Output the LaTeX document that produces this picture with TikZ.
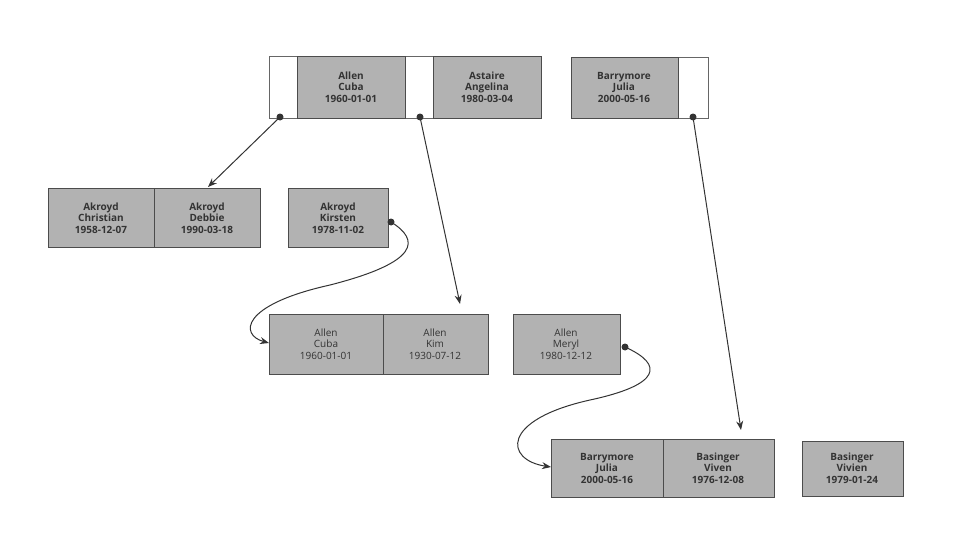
\documentclass[tikz,border=0pt]{standalone}
\usepackage{fontspec}
\setmainfont{Open Sans}
\usetikzlibrary{arrows.meta}
\begin{document}
\begin{tikzpicture}[x=1pt,y=-1pt,
  cell/.style={draw=black!70,fill=black!30,line width=0.8pt},
  ptr/.style={draw=black!60,fill=white,line width=0.6pt},
  lab/.style={align=center,font=\fontsize{10}{11.5}\selectfont\bfseries,text=black!80,inner sep=0pt},
  labn/.style={align=center,font=\fontsize{10}{11.5}\selectfont,text=black!80,inner sep=0pt},
  dot/.style={circle,fill=black!80,inner sep=0pt,minimum size=7pt},
  arr/.style={draw=black!80,line width=1pt,-{Stealth[length=9pt,width=7pt]}}]
\useasboundingbox (0,0) rectangle (965,559);
% top row
\draw[ptr] (269,56) rectangle (297,118);
\draw[ptr] (405,56) rectangle (433,118);
\draw[ptr] (678,57) rectangle (708,118);
\draw[cell] (297,56) rectangle (405,118); \node[lab] (t1) at (351,87) {Allen\\Cuba\\1960-01-01};
\draw[cell] (433,56) rectangle (541,118); \node[lab] (t2) at (487,87) {Astaire\\Angelina\\1980-03-04};
\draw[cell] (571,57) rectangle (678,118); \node[lab] (t3) at (624,87) {Barrymore\\Julia\\2000-05-16};
% row 2
\draw[cell] (48,188) rectangle (154,247); \node[lab] (a1) at (101,218) {Akroyd\\Christian\\1958-12-07};
\draw[cell] (154,188) rectangle (260,247); \node[lab] (a2) at (207,218) {Akroyd\\Debbie\\1990-03-18};
\draw[cell] (288,188) rectangle (388,247); \node[lab] (a3) at (338,218) {Akroyd\\Kirsten\\1978-11-02};
% row 3
\draw[cell] (269,314) rectangle (383,374); \node[labn] (b1) at (326,344) {Allen\\Cuba\\1960-01-01};
\draw[cell] (383,314) rectangle (488,374); \node[labn] (b2) at (435,344) {Allen\\Kim\\1930-07-12};
\draw[cell] (513,314) rectangle (620,374); \node[labn] (b3) at (566,344) {Allen\\Meryl\\1980-12-12};
% row 4
\draw[cell] (551,439) rectangle (663,497); \node[lab] (c1) at (607,468) {Barrymore\\Julia\\2000-05-16};
\draw[cell] (663,439) rectangle (774,497); \node[lab] (c2) at (718,468) {Basinger\\Viven\\1976-12-08};
\draw[cell] (802,441) rectangle (903,496); \node[lab] (c3) at (852,468) {Basinger\\Vivien\\1979-01-24};
% pointers
\node[dot] (p1) at (280,117) {};
\node[dot] (p2) at (420,117) {};
\node[dot] (p3) at (693,117) {};
\node[dot] (p4) at (391,222) {};
\node[dot] (p5) at (625,347) {};
\coordinate (e1) at (208,187);
\coordinate (e2) at (460,304);
\coordinate (e3) at (741,430);
\coordinate (e4) at (269,343);
\coordinate (e5) at (551,467);
\draw[arr] (p1.center) -- (e1);
\draw[arr] (p2.center) -- (e2);
\draw[arr] (p3.center) -- (e3);
\draw[arr] (p4.center) .. controls (420,240) and (420,262) .. (330,285) .. controls (240,305) and (240,335) .. (e4);
\draw[arr] (p5.center) .. controls (665,365) and (660,385) .. (590,400) .. controls (500,420) and (505,460) .. (e5);
\end{tikzpicture}
\end{document}
